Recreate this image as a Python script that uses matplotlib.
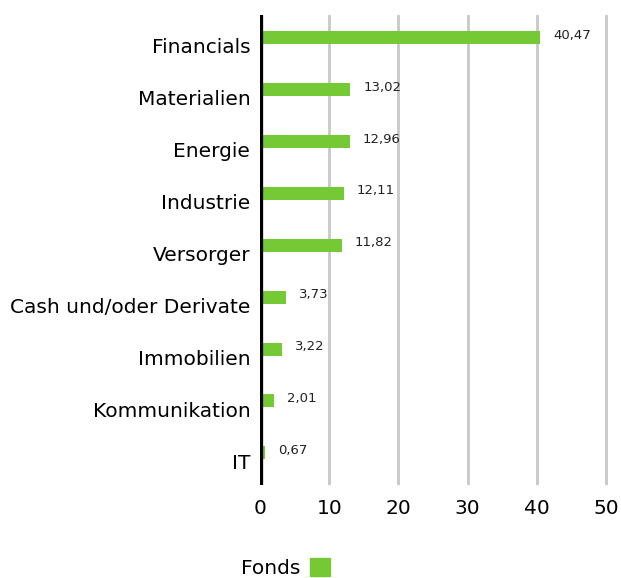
import matplotlib
matplotlib.use("Agg")
import matplotlib.pyplot as plt
from matplotlib.patches import Patch

sectors = ["Financials", "Materialien", "Energie", "Industrie", "Versorger",
           "Cash und/oder Derivate", "Immobilien", "Kommunikation", "IT"]
weights = [40.47, 13.02, 12.96, 12.11, 11.82, 3.73, 3.22, 2.01, 0.67]
xticks = [0, 10, 20, 30, 40, 50]

GREEN = "#74c934"

plt.rcParams["font.family"] = ["DejaVu Sans"]

fig = plt.figure(figsize=(6.21, 5.78), dpi=100)
ax = fig.add_axes([0.4187, 0.161, 0.5605, 0.813])

# bars sit in the upper half of each category slot
y = list(range(len(sectors)))
ybar = [yi - 0.155 for yi in y]
ax.barh(ybar, weights, height=0.25, color=GREEN, zorder=3)
for yb, v in zip(ybar, weights):
    ax.text(v + 1.9, yb - 0.04, f"{v:.2f}".replace(".", ","), fontsize=9.5,
            va="center", ha="left", color="#222222")

ax.set_xlim(0, 50.3)
ax.set_ylim(8.46, -0.58)
ax.set_xticks(xticks)
ax.set_xticklabels([str(t) for t in xticks], fontsize=14.5)
ax.set_yticks(y)
ax.set_yticklabels(sectors, fontsize=14.5)
ax.tick_params(length=0, pad=7)
ax.tick_params(axis="x", pad=10)

ax.grid(axis="x", color="#c8c8c8", lw=2, zorder=0)
ax.axvline(0, color="black", lw=3.8, zorder=4)
for s in ax.spines.values():
    s.set_visible(False)

fig.legend(handles=[Patch(color=GREEN)], labels=["Fonds"], loc="center",
           bbox_to_anchor=(0.46, 0.018), frameon=False, markerfirst=False,
           fontsize=14.5, handlelength=1.0, handleheight=1.0, handletextpad=0.5)

fig.savefig("out.png", dpi=100)
